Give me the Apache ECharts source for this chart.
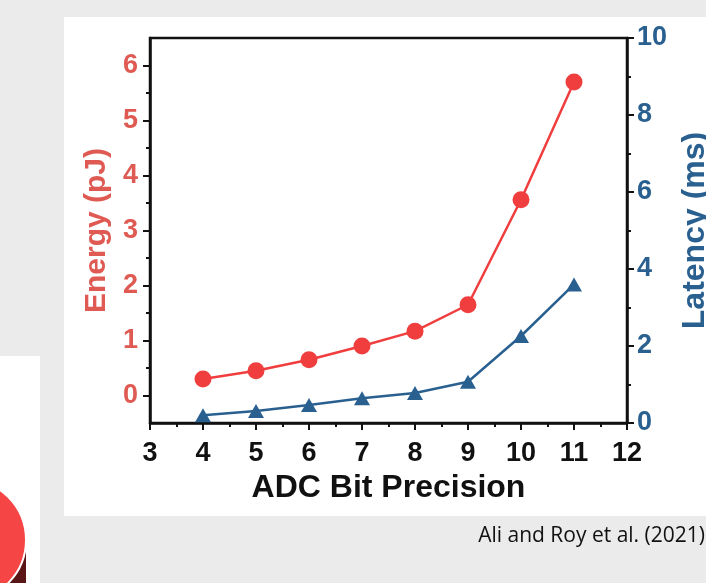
<!DOCTYPE html>
<html>
<head>
<meta charset="utf-8">
<script src="https://cdn.jsdelivr.net/npm/echarts@6/dist/echarts.min.js"></script>
<style>
  html, body { margin: 0; padding: 0; background: #ebebeb; }
  #main { width: 706px; height: 583px; }
</style>
</head>
<body>
<div id="main"></div>
<script>
// ADC bit precision vs energy / latency
const bits = [4, 5, 6, 7, 8, 9, 10, 11];
const energy = [0.3, 0.45, 0.65, 0.9, 1.17, 1.65, 3.56, 5.7];   // pJ
const latency = [0.2, 0.31, 0.47, 0.64, 0.78, 1.07, 2.26, 3.6]; // ms
const energyLabels = [0, 1, 2, 3, 4, 5, 6];
const energyMinor = [0.5, 1.5, 2.5, 3.5, 4.5, 5.5];

const red = "#f03e3e";
const redText = "#de5a52";
const blue = "#2a6090";
const font = "Liberation Sans";

const chart = echarts.init(document.getElementById("main"));

const option = {
  animation: false,
  backgroundColor: "transparent",
  textStyle: { fontFamily: font },
  graphic: [
    // white figure panel
    { type: "rect", z: -10, shape: { x: 64, y: 17, width: 642, height: 499 }, style: { fill: "#ffffff" } },
    // slide decoration bottom left
    { type: "rect", z: -10, shape: { x: 0, y: 356, width: 40, height: 227 }, style: { fill: "#ffffff" } },
    { type: "rect", z: -9, shape: { x: 0, y: 548, width: 26, height: 35 }, style: { fill: "#5a1616" } },
    { type: "circle", z: -8, shape: { cx: -35, cy: 540, r: 61 }, style: { fill: "#f64545", stroke: "#ffffff", lineWidth: 2 } },
    {
      type: "text", right: 1, top: 526,
      style: { text: "Ali and Roy et al. (2021)", font: "21px 'Open Sans'", fill: "#111" }
    }
  ],
  grid: {
    left: 150, right: 79, top: 38, bottom: 160,
    outerBoundsMode: "none", containLabel: false,
    show: true, borderColor: "#111", borderWidth: 2.5, backgroundColor: "transparent"
  },
  xAxis: {
    type: "value", min: 3, max: 12, interval: 1,
    name: "ADC Bit Precision", nameLocation: "middle", nameGap: 48,
    nameTextStyle: { fontSize: 32, fontWeight: "bold", color: "#111", fontFamily: font },
    axisLine: { onZero: false, lineStyle: { color: "#111", width: 2.5 } },
    axisTick: { show: true, inside: false, length: 7, lineStyle: { color: "#111", width: 2 } },
    minorTick: { show: true, splitNumber: 2, length: 4, lineStyle: { color: "#111", width: 2 } },
    axisLabel: { fontSize: 27, fontWeight: "bold", color: "#111", margin: 17, fontFamily: font },
    splitLine: { show: false }
  },
  yAxis: [
    {
      type: "value", position: "left", min: -0.5, max: 6.5,
      name: "Energy (pJ)", nameLocation: "middle", nameGap: 36, nameRotate: 90,
      nameTextStyle: { fontSize: 30, fontWeight: "bold", color: redText, fontFamily: font },
      axisLine: { show: true, onZero: false, lineStyle: { color: "#111", width: 2.5 } },
      axisTick: { show: true, length: 7, customValues: energyLabels, lineStyle: { color: "#111", width: 2 } },
      axisLabel: { customValues: energyLabels, fontSize: 27, fontWeight: "bold", color: redText, margin: 12, fontFamily: font },
      splitLine: { show: false }
    },
    {
      type: "value", position: "right", min: 0, max: 10, interval: 2,
      name: "Latency (ms)", nameLocation: "middle", nameGap: 52, nameRotate: 90,
      nameTextStyle: { fontSize: 32, fontWeight: "bold", color: blue, fontFamily: font },
      axisLine: { show: true, onZero: false, lineStyle: { color: "#111", width: 2.5 } },
      axisTick: { show: true, length: 7, lineStyle: { color: "#111", width: 2 } },
      minorTick: { show: true, splitNumber: 2, length: 4, lineStyle: { color: "#111", width: 2 } },
      axisLabel: { fontSize: 27, fontWeight: "bold", color: blue, margin: 10, fontFamily: font },
      splitLine: { show: false }
    },
    {
      // minor ticks for the energy axis
      type: "value", position: "left", min: -0.5, max: 6.5,
      axisLine: { show: false, onZero: false },
      axisTick: { show: true, length: 4, customValues: energyMinor, lineStyle: { color: "#111", width: 2 } },
      axisLabel: { show: false },
      splitLine: { show: false }
    }
  ],
  series: [
    {
      name: "Energy", type: "line", yAxisIndex: 0,
      data: bits.map((b, i) => [b, energy[i]]),
      symbol: "circle", symbolSize: 17,
      itemStyle: { color: red },
      lineStyle: { color: red, width: 2.5 }
    },
    {
      name: "Latency", type: "line", yAxisIndex: 1,
      data: bits.map((b, i) => [b, latency[i]]),
      symbol: "triangle", symbolSize: [16, 14],
      itemStyle: { color: blue },
      lineStyle: { color: blue, width: 2.5 }
    }
  ]
};

chart.setOption(option);
</script>
</body>
</html>
